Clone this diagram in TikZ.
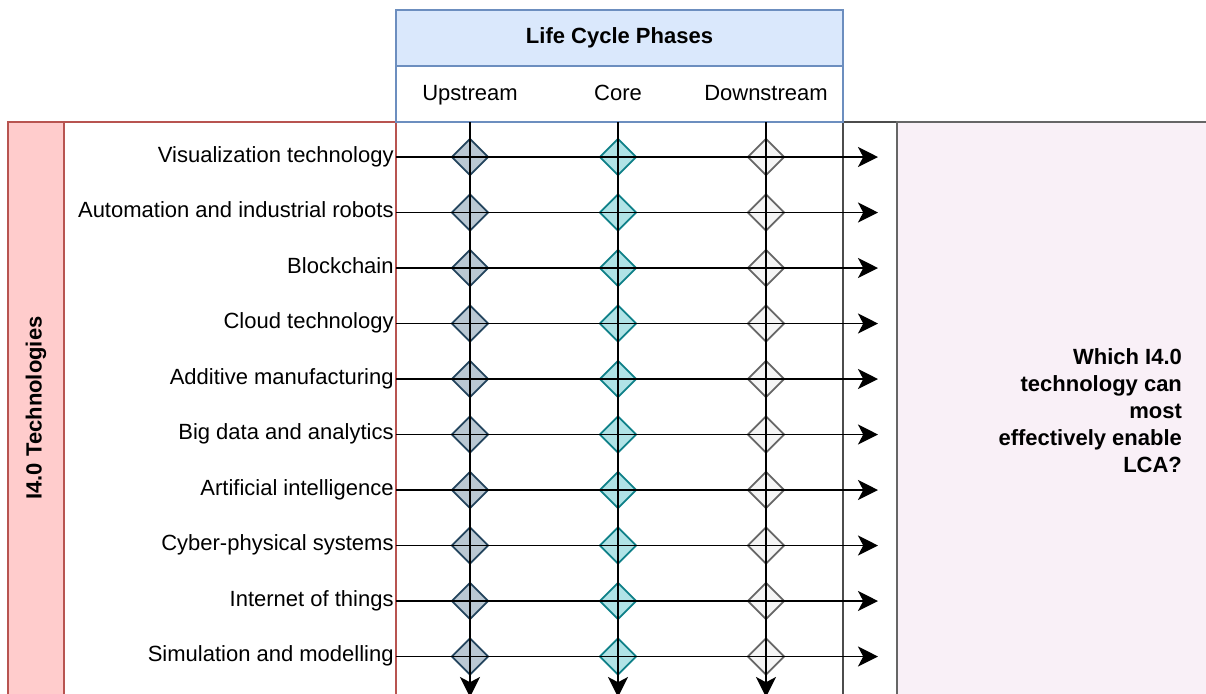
\documentclass[tikz,border=0pt]{standalone}
\usepackage{fontspec}
\setmainfont{Liberation Sans}
\usetikzlibrary{arrows.meta,shapes.geometric}

\definecolor{poolred}{HTML}{B85450}
\definecolor{poolfill}{HTML}{FFCCCC}
\definecolor{hdrblue}{HTML}{6C8EBF}
\definecolor{hdrfill}{HTML}{DAE8FC}
\definecolor{qfill}{HTML}{F9F0F7}
\definecolor{upfill}{HTML}{BAC8D3}
\definecolor{updraw}{HTML}{23445D}
\definecolor{corefill}{HTML}{B0E3E6}
\definecolor{coredraw}{HTML}{0E8088}
\definecolor{downfill}{HTML}{F5F5F5}
\definecolor{downdraw}{HTML}{666666}

\tikzset{
  every node/.style={font=\fontsize{11pt}{13.5pt}\selectfont},
  techlabel/.style={anchor=east, inner sep=1pt, text height=0.75em, text depth=0.25em},
  phaselabel/.style={inner sep=0pt, text height=0.75em, text depth=0.25em},
  gem/.style={diamond, aspect=1, inner sep=0pt, minimum width=18.5pt, minimum height=18.5pt, line width=0.9pt},
  gemup/.style={gem, fill=upfill, draw=updraw},
  gemcore/.style={gem, fill=corefill, draw=coredraw},
  gemdown/.style={gem, fill=downfill, draw=downdraw},
  flow/.style={line width=0.85pt, black, -{Stealth[length=10pt,width=10pt,inset=2.6pt]}},
}

\begin{document}
\begin{tikzpicture}[x=0.5pt, y=-0.5pt]
\useasboundingbox (0,0) rectangle (1206,693);
\clip (0,0) rectangle (1206,693);

% right-hand lane and question box
\draw[line width=1pt, draw=black!70] (843,122) rectangle (1220,710);
\draw[line width=1pt, draw=black!60, fill=qfill] (897,122) rectangle (1220,710);
\node[anchor=east, align=right, font=\bfseries\fontsize{11pt}{13.5pt}\selectfont] (question)
  at (1189,411) {Which I4.0\\technology can\\most\\effectively enable\\LCA?};

% technology pool
\draw[line width=0.8pt, draw=poolred] (8,122) rectangle (396,710);
\draw[line width=0.8pt, draw=poolred, fill=poolfill] (8,122) rectangle (64,710);
\node[rotate=90, font=\bfseries\fontsize{11pt}{13.5pt}\selectfont] (pooltitle) at (36,408) {I4.0 Technologies};

% life cycle header
\draw[line width=0.8pt, draw=hdrblue, fill=hdrfill] (396,10) rectangle (843,66);
\draw[line width=0.8pt, draw=hdrblue, fill=white] (396,66) rectangle (843,122);
\node[font=\bfseries\fontsize{11pt}{13.5pt}\selectfont] (lcp) at (619.5,38) {Life Cycle Phases};
\node[phaselabel] (up)   at (470,95) {Upstream};
\node[phaselabel] (core) at (618,95) {Core};
\node[phaselabel] (down) at (766,95) {Downstream};

% column ends
\coordinate (upT) at (470,122);   \coordinate (upB) at (470,697);
\coordinate (coreT) at (618,122); \coordinate (coreB) at (618,697);
\coordinate (downT) at (766,122); \coordinate (downB) at (766,697);

% technology rows
\foreach \i/\txt in {0/Visualization technology,
                     1/Automation and industrial robots,
                     2/Blockchain,
                     3/Cloud technology,
                     4/Additive manufacturing,
                     5/Big data and analytics,
                     6/Artificial intelligence,
                     7/Cyber-physical systems,
                     8/Internet of things,
                     9/Simulation and modelling}{
  \pgfmathsetmacro{\yy}{157+55.5*\i}
  \node[techlabel] (t\i) at (396,\yy) {\txt};
  \coordinate (e\i) at (878,\yy);
  \node[gemup]   (u\i) at (470,\yy) {};
  \node[gemcore] (c\i) at (618,\yy) {};
  \node[gemdown] (d\i) at (766,\yy) {};
}

% flows drawn over the markers
\foreach \i in {0,...,9}{
  \draw[flow] (t\i.east) -- (e\i);
}
\draw[flow] (upT) -- (upB);
\draw[flow] (coreT) -- (coreB);
\draw[flow] (downT) -- (downB);

\end{tikzpicture}
\end{document}
